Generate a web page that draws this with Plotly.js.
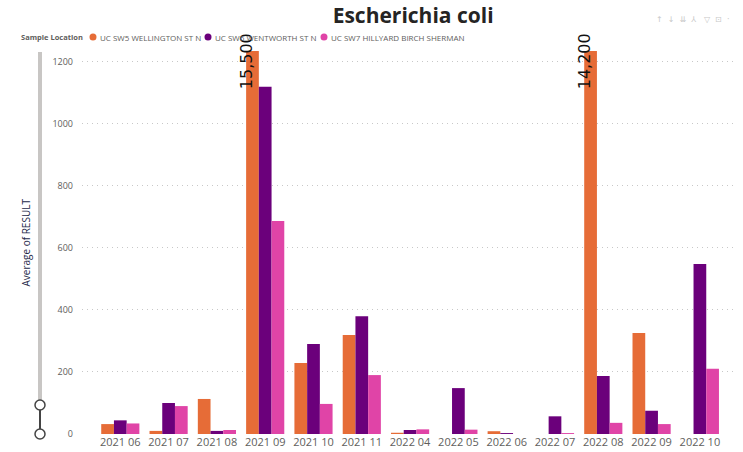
<!DOCTYPE html>
<html>
<head>
<meta charset="utf-8">
<script src="https://cdn.plot.ly/plotly-3.0.1.min.js"></script>
<style>html,body{margin:0;padding:0;background:#fff;}#chart{width:743px;height:452px;}</style>
</head>
<body>
<div id="chart"></div>
<script>
const categories = ["2021 06","2021 07","2021 08","2021 09","2021 10","2021 11","2022 04","2022 05","2022 06","2022 07","2022 08","2022 09","2022 10"];
const seriesNames = ["UC SW5 WELLINGTON ST N","UC SW6 WENTWORTH ST N","UC SW7 HILLYARD BIRCH SHERMAN"];
const wellington = [32, 10, 113, 15500, 229, 319, 4, null, 9, null, 14200, 326, null];
const wentworth  = [44, 100, 10, 1120, 290, 380, 13, 148, 3, 57, 187, 75, 548];
const hillyard   = [34, 90, 13, 687, 97, 190, 15, 14, null, 3, 36, 32, 210];
const colors = ["#E66C37", "#6B007B", "#E044A7"];
const legendTitle = "Sample Location";
const yMax = 1235;
const yTicks = [0, 200, 400, 600, 800, 1000, 1200];

const series = [wellington, wentworth, hillyard];
const traces = series.map((vals, i) => ({
  type: "bar", x: categories, y: vals, name: seriesNames[i],
  marker: {color: colors[i]}, showlegend: false, hoverinfo: "none"
}));

// labels for bars that exceed the visible range
const overflowAnn = [];
wellington.forEach((v, i) => {
  if (v !== null && v > yMax) {
    overflowAnn.push({
      x: categories[i], y: 1, xref: "x", yref: "paper",
      text: v.toLocaleString("en-US"), showarrow: false, textangle: -90,
      font: {family: "DejaVu Sans, sans-serif", size: 16, color: "#111"},
      xanchor: "center", yanchor: "middle", xshift: -19, yshift: -10
    });
  }
});

const W = 653, H = 383; // plot px
const L = 82, T = 51;
const px = x => (x - L) / W;
const py = y => (434 - y) / H;

// legend drawn with shapes + text (compact Power BI style)
const legendX = [93, 208, 324];
const legendY = 37;
const legendAnn = [{x: px(19), y: py(legendY), xref: "paper", yref: "paper", text: "<b>" + legendTitle + "</b>",
  showarrow: false, xanchor: "left", yanchor: "middle",
  font: {family: "Open Sans, sans-serif", size: 7.5, color: "#605E5C"}}];
const legendShapes = [];
seriesNames.forEach((n, i) => {
  legendShapes.push({type: "circle", xref: "paper", yref: "paper",
    x0: px(legendX[i] - 3.5), x1: px(legendX[i] + 3.5), y0: py(legendY - 3.5), y1: py(legendY + 3.5),
    line: {width: 0}, fillcolor: colors[i]});
  legendAnn.push({x: px(legendX[i] + 5), y: py(legendY), xref: "paper", yref: "paper", text: n,
    showarrow: false, xanchor: "left", yanchor: "middle",
    font: {family: "Open Sans, sans-serif", size: 8, color: "#605E5C"}});
});

const layout = {
  width: 743, height: 452,
  margin: {l: L, r: 8, t: T, b: 18},
  paper_bgcolor: "#fff", plot_bgcolor: "#fff",
  barmode: "group", bargap: 0.21, bargroupgap: 0,
  showlegend: false,
  title: {text: "<b>Escherichia coli</b>", x: 0.556, xanchor: "center", y: 0.965, yanchor: "middle",
          font: {family: "Open Sans, DejaVu Sans, sans-serif", size: 21, color: "#252423"}},
  xaxis: {type: "category", range: [-0.793, 12.727], showgrid: false, zeroline: false, showline: false,
          ticks: "", tickfont: {family: "Open Sans, sans-serif", size: 11, color: "#605E5C"}, fixedrange: true},
  yaxis: {range: [0, yMax], tickvals: yTicks, ticktext: yTicks.map(String), showgrid: true,
          gridcolor: "#C8C8C8", griddash: "1px,4px", gridwidth: 1, zeroline: false, showline: false,
          ticks: "", ticklabelstandoff: 8,
          tickfont: {family: "Open Sans, sans-serif", size: 9, color: "#605E5C"}, fixedrange: true},
  annotations: overflowAnn.concat(legendAnn, [
    {x: px(25), y: 0.5, xref: "paper", yref: "paper", text: "Average of RESULT", textangle: -90,
     showarrow: false, xanchor: "center", yanchor: "middle",
     font: {family: "Open Sans, sans-serif", size: 10, color: "#252A4A"}},
    {x: px(731), y: py(19), xref: "paper", yref: "paper", text: "↑  ↓  ⇊  ⅄   ▽  ⊡  ·", showarrow: false,
     xanchor: "right", yanchor: "middle", font: {family: "DejaVu Sans, sans-serif", size: 8, color: "#C8C8C8"}}
  ]),
  shapes: legendShapes.concat([
    {type: "line", xref: "paper", yref: "paper", x0: px(40), x1: px(40),
     y0: py(400), y1: py(52), line: {color: "#C8C6C4", width: 4}},
    {type: "line", xref: "paper", yref: "paper", x0: px(40), x1: px(40),
     y0: py(434), y1: py(405), line: {color: "#444", width: 2}},
    {type: "circle", xref: "paper", yref: "paper", x0: px(35), x1: px(45),
     y0: py(400), y1: py(410), line: {color: "#444", width: 1.5}, fillcolor: "#fff"},
    {type: "circle", xref: "paper", yref: "paper", x0: px(35), x1: px(45),
     y0: py(429), y1: py(439), line: {color: "#444", width: 1.5}, fillcolor: "#fff"}
  ])
};

Plotly.newPlot("chart", traces, layout, {displayModeBar: false, staticPlot: true});
</script>
</body>
</html>
